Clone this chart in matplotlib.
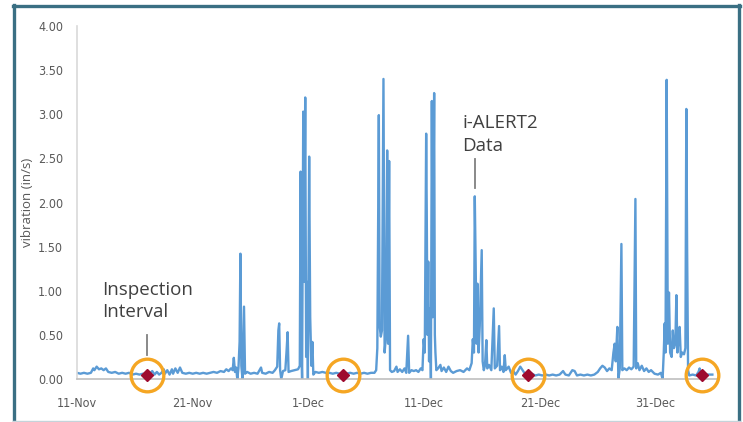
import numpy as np
import matplotlib
matplotlib.use('Agg')
import matplotlib.pyplot as plt
from matplotlib import font_manager
from matplotlib.lines import Line2D

# days since 11-Nov and vibration (in/s)
days = [0.0, 0.3, 0.6, 0.9, 1.2, 1.4, 1.5, 1.7, 1.9, 2.1, 2.3, 2.5, 2.7, 3.0, 3.3, 3.6, 3.9,
        4.2, 4.5, 4.8, 5.1, 5.4, 5.7, 6.0, 6.3, 6.5, 6.7, 6.9, 7.1, 7.3, 7.5, 7.6, 7.8, 8.0,
        8.2, 8.3, 8.5, 8.7, 8.9, 9.1, 9.4, 9.7, 10.0, 10.3, 10.6, 10.9, 11.2, 11.5, 11.8,
        12.1, 12.4, 12.7, 12.9, 13.1, 13.3, 13.45, 13.55, 13.65, 13.75, 13.85, 13.95, 14.05,
        14.12, 14.2, 14.3, 14.43, 14.52, 14.7, 15.0, 15.3, 15.6, 15.9, 16.0, 16.3, 16.6,
        16.9, 17.1, 17.3, 17.4, 17.47, 17.55, 17.65, 17.8, 18.0, 18.1, 18.2, 18.28, 18.5,
        18.8, 19.1, 19.25, 19.32, 19.38, 19.45, 19.55, 19.62, 19.72, 19.8, 19.88, 19.95,
        20.06, 20.15, 20.25, 20.34, 20.42, 20.6, 20.9, 21.2, 21.5, 21.8, 22.1, 22.4, 22.7,
        23.0, 23.3, 23.6, 23.9, 24.2, 24.5, 24.8, 25.1, 25.4, 25.7, 25.85, 25.95, 26.08,
        26.15, 26.25, 26.35, 26.48, 26.58, 26.7, 26.8, 26.88, 26.97, 27.05, 27.2, 27.4,
        27.6, 27.7, 27.9, 28.1, 28.3, 28.45, 28.61, 28.7, 28.9, 29.1, 29.3, 29.5, 29.7,
        29.85, 29.95, 30.05, 30.17, 30.22, 30.28, 30.35, 30.42, 30.5, 30.58, 30.66, 30.74,
        30.86, 30.92, 30.97, 31.05, 31.2, 31.4, 31.5, 31.7, 31.9, 32.1, 32.3, 32.5, 32.8,
        33.1, 33.4, 33.7, 33.9, 34.1, 34.2, 34.3, 34.37, 34.45, 34.52, 34.6, 34.7, 34.8,
        34.97, 35.05, 35.15, 35.25, 35.37, 35.45, 35.6, 35.8, 36.01, 36.1, 36.3, 36.47,
        36.55, 36.7, 36.85, 36.96, 37.05, 37.3, 37.5, 37.7, 37.9, 38.1, 38.3, 38.5, 38.7,
        39.0, 39.3, 39.6, 39.9, 40.2, 40.5, 40.8, 41.1, 41.4, 41.7, 42.0, 42.2, 42.5, 42.8,
        43.0, 43.2, 43.5, 43.8, 44.1, 44.4, 44.7, 45.0, 45.2, 45.4, 45.6, 45.8, 46.0, 46.2,
        46.35, 46.46, 46.55, 46.69, 46.78, 46.9, 47.04, 47.12, 47.3, 47.5, 47.7, 47.9, 48.1,
        48.25, 48.32, 48.45, 48.6, 48.8, 49.0, 49.2, 49.4, 49.6, 49.9, 50.2, 50.45, 50.6,
        50.7, 50.78, 50.85, 50.95, 51.05, 51.15, 51.25, 51.38, 51.48, 51.58, 51.7, 51.79,
        51.88, 51.97, 52.07, 52.17, 52.3, 52.45, 52.57, 52.65, 52.72, 52.8, 52.9, 53.2,
        53.5, 53.7, 53.8, 53.9, 54.2, 54.5, 54.9]
vibration = [0.07, 0.06, 0.07, 0.06, 0.07, 0.12, 0.10, 0.14, 0.11, 0.12, 0.10, 0.12, 0.08, 0.07,
             0.08, 0.06, 0.07, 0.06, 0.07, 0.05, 0.06, 0.05, 0.06, 0.05, 0.06, 0.09, 0.05, 0.08,
             0.05, 0.07, 0.11, 0.06, 0.10, 0.05, 0.11, 0.06, 0.12, 0.07, 0.13, 0.07, 0.06, 0.07,
             0.06, 0.07, 0.06, 0.07, 0.06, 0.07, 0.08, 0.07, 0.09, 0.08, 0.11, 0.09, 0.12, 0.10,
             0.24, 0.08, 0.13, 0.00, 0.12, 0.42, 1.42, 0.15, 0.00, 0.82, 0.06, 0.08, 0.06, 0.07,
             0.06, 0.13, 0.07, 0.06, 0.08, 0.07, 0.10, 0.14, 0.55, 0.63, 0.10, 0.00, 0.09, 0.10,
             0.30, 0.53, 0.08, 0.09, 0.10, 0.11, 0.15, 2.35, 0.40, 0.00, 3.03, 1.10, 3.19, 0.25,
             1.10, 0.00, 2.52, 0.70, 0.15, 0.42, 0.05, 0.08, 0.07, 0.08, 0.07, 0.07, 0.06, 0.07,
             0.06, 0.07, 0.06, 0.07, 0.06, 0.07, 0.06, 0.07, 0.06, 0.07, 0.07, 0.10, 0.35, 2.99,
             0.60, 0.48, 0.55, 3.40, 0.30, 0.50, 2.59, 0.40, 2.47, 0.10, 0.08, 0.09, 0.14, 0.08,
             0.11, 0.08, 0.12, 0.07, 0.49, 0.07, 0.10, 0.09, 0.10, 0.08, 0.12, 0.10, 0.45, 0.30,
             2.78, 1.92, 0.50, 1.33, 0.20, 0.80, 0.00, 3.15, 0.70, 3.24, 0.50, 0.30, 0.10, 0.12,
             0.16, 0.09, 0.13, 0.08, 0.14, 0.09, 0.07, 0.09, 0.10, 0.08, 0.12, 0.10, 0.18, 0.45,
             0.30, 2.07, 1.27, 0.40, 1.08, 0.30, 0.60, 1.46, 0.20, 0.10, 0.15, 0.44, 0.12, 0.16,
             0.10, 0.80, 0.12, 0.15, 0.60, 0.10, 0.14, 0.08, 0.27, 0.10, 0.14, 0.07, 0.09, 0.05,
             0.09, 0.14, 0.10, 0.06, 0.05, 0.06, 0.04, 0.05, 0.04, 0.05, 0.04, 0.05, 0.04, 0.05,
             0.09, 0.05, 0.04, 0.10, 0.09, 0.04, 0.05, 0.04, 0.05, 0.04, 0.05, 0.08, 0.12, 0.15,
             0.13, 0.09, 0.12, 0.10, 0.30, 0.40, 0.20, 0.59, 0.00, 0.12, 1.53, 0.10, 0.12, 0.10,
             0.13, 0.11, 0.14, 2.04, 0.12, 0.18, 0.10, 0.15, 0.09, 0.12, 0.08, 0.10, 0.06, 0.05,
             0.07, 0.00, 0.30, 0.63, 0.30, 3.39, 0.40, 0.98, 0.30, 0.25, 0.55, 0.35, 0.40, 0.95,
             0.30, 0.45, 0.59, 0.25, 0.30, 0.28, 0.35, 3.06, 1.46, 0.10, 0.04, 0.05, 0.04, 0.08,
             0.12, 0.05, 0.04, 0.05, 0.05]

inspection_days = [6.04, 22.97, 38.95, 53.97]
inspection_vals = [0.045, 0.045, 0.045, 0.045]

tick_days = [0, 10, 20, 30, 40, 50]
tick_labels = ['11-Nov', '21-Nov', '1-Dec', '11-Dec', '21-Dec', '31-Dec']

# narrow font for the tick labels, if one is around
names = {f.name for f in font_manager.fontManager.ttflist}
tick_prop = None
for f in font_manager.fontManager.ttflist:
    if 'Narrow' in f.fname or ('Condensed' in f.fname and 'Bold' not in f.fname
                               and 'Oblique' not in f.fname and 'Italic' not in f.fname):
        if 'Sans' in f.name:
            tick_prop = font_manager.FontProperties(fname=f.fname, size=9)
            break
if tick_prop is None:
    tick_prop = font_manager.FontProperties(family='Liberation Sans', size=8.5)
text_font = 'Open Sans' if 'Open Sans' in names else 'DejaVu Sans'

W, H = 743, 422
fig = plt.figure(figsize=(W / 100, H / 100), dpi=100)
ax = fig.add_axes([77 / W, 1 - 379 / H, (717 - 77) / W, (379 - 26) / H])

ax.plot(days, vibration, color='#5b9bd5', lw=1.7, zorder=2)
ax.plot(inspection_days, inspection_vals, linestyle='none', marker='D', ms=6.5,
        color='#9e0b2f', zorder=4, clip_on=False)
ax.plot(inspection_days, inspection_vals, linestyle='none', marker='o', ms=23.5,
        mfc='none', mec='#f5a623', mew=2.4, zorder=3, clip_on=False)

ax.set_xlim(0, 55.3)
ax.set_ylim(0, 4)
ax.set_xticks(tick_days)
ax.set_xticklabels(tick_labels)
ax.set_yticks(np.arange(0, 4.01, 0.5))
ax.set_yticklabels(['%.2f' % v for v in np.arange(0, 4.01, 0.5)])
for lab in ax.get_xticklabels() + ax.get_yticklabels():
    lab.set_fontproperties(tick_prop)
    lab.set_color('#595959')
ax.tick_params(axis='both', length=0)
ax.tick_params(axis='x', pad=13)
ax.tick_params(axis='y', pad=10)

for s in ['top', 'right']:
    ax.spines[s].set_visible(False)
ax.spines['left'].set_color('#d9d9d9')
ax.spines['bottom'].set_color('#bfbfbf')
ax.spines['left'].set_linewidth(1.2)
ax.spines['bottom'].set_linewidth(1.2)

ax.set_ylabel('vibration (in/s)', fontfamily=text_font, fontsize=9.5, color='#595959')
ax.yaxis.set_label_coords(-(77 - 34) / 640, 0.5)

# annotations
ax.text(2.16, 0.95, 'Inspection', fontfamily=text_font, fontsize=13.5, color='#404040',
        va='baseline', ha='left')
ax.text(2.16, 0.70, 'Interval', fontfamily=text_font, fontsize=13.5, color='#404040',
        va='baseline', ha='left')
ax.plot([6.04, 6.04], [0.50, 0.27], color='#808080', lw=1.3)

ax.text(33.3, 2.84, 'i-ALERT2', fontfamily=text_font, fontsize=13.5, color='#404040',
        va='baseline', ha='left')
ax.text(33.3, 2.58, 'Data', fontfamily=text_font, fontsize=13.5, color='#404040',
        va='baseline', ha='left')
ax.plot([34.37, 34.37], [2.49, 2.16], color='#808080', lw=1.3)

# slide frame
frame = '#3a6f83'
fig.add_artist(Line2D([14 / W, 14 / W], [0, 1 - 5 / H], color=frame, lw=2.4))
fig.add_artist(Line2D([13 / W, 740 / W], [1 - 6 / H, 1 - 6 / H], color=frame, lw=2.4))
fig.add_artist(Line2D([738.5 / W, 738.5 / W], [0, 1 - 5 / H], color=frame, lw=2.4))
fig.add_artist(Line2D([13 / W, 740 / W], [1 - 420.5 / H, 1 - 420.5 / H], color='#c5d3da', lw=1))

fig.savefig('out.png', dpi=100)
